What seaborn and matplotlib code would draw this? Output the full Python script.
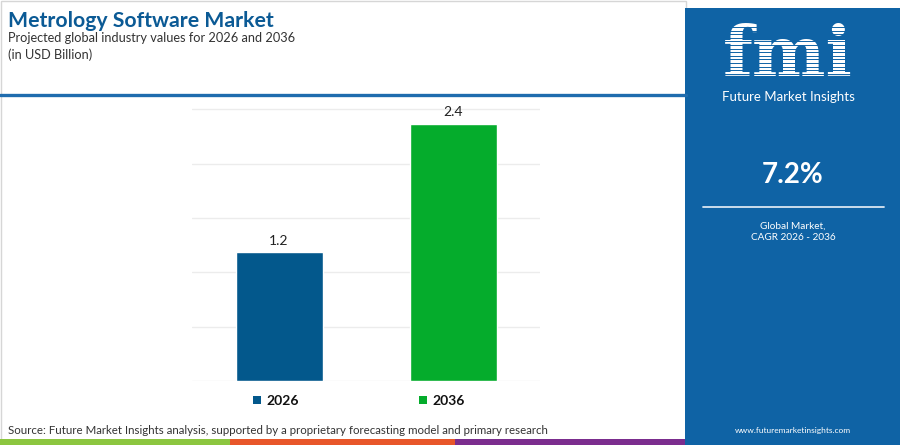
import matplotlib
matplotlib.use("Agg")
import matplotlib.pyplot as plt
from matplotlib.patches import Rectangle, Patch
from matplotlib.lines import Line2D
import seaborn as sns
import pandas as pd
import numpy as np

# ---- data ----
years = ["2026", "2036"]
values = [1.2, 2.4]
bar_colors = ["#03588c", "#05ac2c"]
cagr_text = "7.2%"
title = "Metrology Software Market"
subtitle = "Projected global industry values for 2026 and 2036"
unit_text = "(in USD Billion)"
source_text = "Source: Future Market Insights analysis, supported by a proprietary forecasting model and primary research"

sns.set_theme(style="white")
plt.rcParams["font.family"] = ["Lato", "DejaVu Sans"]

W, H = 900, 445
fig = plt.figure(figsize=(9, 4.45), dpi=100)
fig.patch.set_facecolor("white")

def fx(x):
    return x / W

def fy(y):
    return 1 - y / H

# ---- bar chart ----
ax = fig.add_axes([fx(192), fy(381), fx(540) - fx(192), fy(107.6) - fy(381)])
df = pd.DataFrame({"year": years, "value": values})
sns.barplot(data=df, x="year", y="value", hue="year", palette=bar_colors,
            width=0.5, legend=False, ax=ax, saturation=1)
ax.set_xlim(-0.5, 1.5)
ax.set_ylim(0, 2.55)
ax.set_yticks(np.linspace(0, 2.534, 6))
ax.yaxis.grid(True, color="#ececec", linewidth=1)
ax.set_axisbelow(True)
ax.tick_params(left=False, bottom=False, labelleft=False, labelbottom=False)
ax.set_xlabel("")
ax.set_ylabel("")
for s in ax.spines.values():
    s.set_visible(False)
for cont in ax.containers:
    ax.bar_label(cont, labels=[f"{v:.1f}" for v in cont.datavalues],
                 padding=4, fontsize=10, color="#222222")

# ---- legend ----
handles = [Patch(facecolor=c, edgecolor="none", label=y) for y, c in zip(years, bar_colors)]
leg = fig.legend(handles=handles, loc="center", bbox_to_anchor=(fx(359), fy(401)),
                 ncol=2, frameon=False, handlelength=0.55, handleheight=0.55,
                 handletextpad=0.4, columnspacing=8.7,
                 prop={"weight": "bold", "size": 10})
for t in leg.get_texts():
    t.set_color("#111111")

# ---- header ----
fig.text(fx(8), fy(21), title, fontsize=15.3, weight="bold", color="#0b5a95",
         ha="left", va="center")
fig.text(fx(8), fy(38.5), subtitle, fontsize=9.2, color="#333333", ha="left", va="center")
fig.text(fx(8), fy(55), unit_text, fontsize=9.2, color="#333333", ha="left", va="center")

# frame of left area and header rule
fig.add_artist(Rectangle((fx(0.5), fy(444.5)), fx(685), fy(0.5) - fy(444.5),
                         transform=fig.transFigure, facecolor="none",
                         edgecolor="#d6d6d6", linewidth=1))
fig.add_artist(Line2D([0, fx(686)], [fy(95), fy(95)], transform=fig.transFigure,
                      color="#1f6cae", linewidth=2.4))

# source
fig.text(fx(8), fy(430), source_text, fontsize=8.25, color="#333333",
         ha="left", va="center")

# bottom colour strip
strip = [(0, 230, "#8cc63f"), (230, 455, "#e8562a"), (455, 686, "#7b2d8e")]
for x0, x1, c in strip:
    fig.add_artist(Rectangle((fx(x0), 0), fx(x1) - fx(x0), fy(439), transform=fig.transFigure,
                             facecolor=c, edgecolor="none"))

# ---- right panel ----
panel = "#0f63a5"
fig.add_artist(Rectangle((fx(685), 0), fx(900) - fx(685), fy(8), transform=fig.transFigure,
                         facecolor=panel, edgecolor="none"))
fig.text(fx(788), fy(56), "fmi", fontsize=50, weight="bold", family="DejaVu Serif",
         color="white", ha="center", va="center", zorder=3)
for yy in np.arange(27, 80, 3.6):
    fig.add_artist(Line2D([fx(715), fx(862)], [fy(yy), fy(yy)], transform=fig.transFigure,
                          color=panel, linewidth=0.7, zorder=6))
fig.text(fx(788), fy(97), "Future Market Insights", fontsize=9.5, color="white",
         ha="center", va="center")
fig.text(fx(793), fy(175), cagr_text, fontsize=20, weight="bold", color="white",
         ha="center", va="center")
fig.add_artist(Line2D([fx(703), fx(884)], [fy(207), fy(207)], transform=fig.transFigure,
                      color="#d9e6f2", linewidth=1.3))
fig.text(fx(793), fy(226), "Global Market,", fontsize=7.2, color="white",
         ha="center", va="center")
fig.text(fx(793), fy(238), "CAGR 2026 - 2036", fontsize=7.2, color="white",
         ha="center", va="center")
fig.text(fx(793), fy(430), "www.futuremarketinsights.com", fontsize=6, color="white",
         ha="center", va="center")

fig.savefig("out.png", dpi=100, facecolor="white")
